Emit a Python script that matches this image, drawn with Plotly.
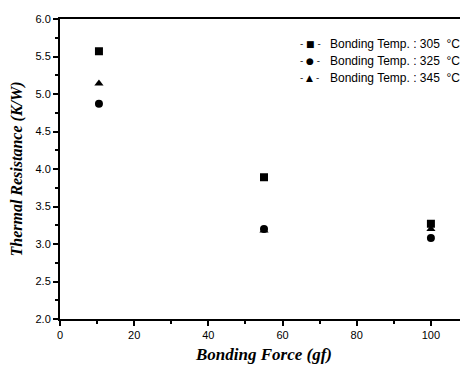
import plotly.graph_objects as go

force = [10.5, 55, 100]
r305 = [5.57, 3.89, 3.27]
r325 = [4.87, 3.20, 3.08]
r345 = [5.14, 3.18, 3.20]
names = ["Bonding Temp. : 305  °C", "Bonding Temp. : 325  °C", "Bonding Temp. : 345  °C"]
symbols = ["square", "circle", "triangle-up"]
legend_glyphs = ["- ■ -", "- ● -", "- ▲ -"]
x_ticks = [0, 20, 40, 60, 80, 100]
y_ticks = [2.0, 2.5, 3.0, 3.5, 4.0, 4.5, 5.0, 5.5, 6.0]

fig = go.Figure()
for ys, nm, sym in zip([r305, r325, r345], names, symbols):
    fig.add_trace(go.Scatter(
        x=force, y=ys, mode="markers", name=nm, showlegend=False,
        marker=dict(symbol=sym, size=8, color="black"),
    ))

# legend as text annotations (compact spacing like the reference)
for i, (g, nm) in enumerate(zip(legend_glyphs, names)):
    yy = 0.917 - i * 0.0567
    fig.add_annotation(x=0.583, y=yy, xref="paper", yref="paper", text=g,
                       showarrow=False, xanchor="left", yanchor="middle",
                       font=dict(family="DejaVu Sans", size=9, color="black"))
    fig.add_annotation(x=0.656, y=yy, xref="paper", yref="paper", text=nm,
                       showarrow=False, xanchor="left", yanchor="middle",
                       font=dict(family="Liberation Sans", size=12, color="black"))

# the page body adds an 8px offset; shrink the figure so the plot area lands at the reference position
fig.update_layout(
    width=460, height=359,
    margin=dict(l=52, r=0, t=11, b=48),
    paper_bgcolor="white", plot_bgcolor="white",
    font=dict(family="Liberation Sans", size=11, color="black"),
)
fig.update_xaxes(
    range=[0, 110], tickvals=x_ticks, ticktext=[str(v) for v in x_ticks],
    automargin=False,
    showgrid=False, zeroline=False, showline=True, linecolor="black", linewidth=2,
    mirror=True, ticks="outside", ticklen=5, tickwidth=1.5, tickcolor="black",
    minor=dict(dtick=10, tick0=0, ticks="outside", ticklen=3, tickcolor="black", showgrid=False),
    title=dict(text="<b><i>Bonding Force (gf)</i></b>", standoff=8,
               font=dict(family="Liberation Serif", size=17, color="black")),
)
fig.update_yaxes(
    range=[2.0, 6.0], tickvals=y_ticks, ticktext=[f"{v:.1f}" for v in y_ticks],
    automargin=False,
    showgrid=False, zeroline=False, showline=True, linecolor="black", linewidth=2,
    ticks="outside", ticklen=5, tickwidth=1.5, tickcolor="black",
    minor=dict(dtick=0.25, tick0=2.0, ticks="outside", ticklen=3, tickcolor="black", showgrid=False),
    title=dict(text="<b><i>Thermal Resistance (K/W)</i></b>", standoff=11,
               font=dict(family="Liberation Serif", size=16, color="black")),
)

fig.write_html("out.html")
